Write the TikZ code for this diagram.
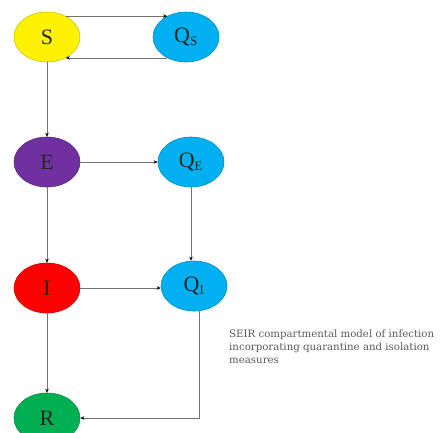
\documentclass[tikz,border=0pt]{standalone}
\usepackage{fontspec}
\setmainfont{Liberation Serif}
\newfontfamily\capfont{DejaVu Serif}
\usetikzlibrary{arrows.meta,shapes.geometric}
\definecolor{syellow}{RGB}{255,242,0}
\definecolor{qblue}{RGB}{0,176,240}
\definecolor{epurple}{RGB}{112,48,160}
\definecolor{ired}{RGB}{255,0,0}
\definecolor{rgreen}{RGB}{0,176,80}
\begin{document}
\begin{tikzpicture}[x=1pt,y=-1pt,
  comp/.style={ellipse, minimum width=66pt, minimum height=50pt, inner sep=0pt,
    draw=#1!80!black, fill=#1, line width=0.6pt,
    font=\fontsize{22}{22}\selectfont, text=black!85},
  flow/.style={draw=black!55, line width=0.7pt,
    -{Stealth[length=4pt,width=3.5pt,fill=black,color=black]}},
  caption/.style={anchor=north west, align=left, inner sep=0pt, text=black!65,
    font=\capfont\fontsize{10.2}{13}\selectfont}]
\useasboundingbox (0,0) rectangle (443,432);
\clip (0,0) rectangle (443,432);

\node[comp=syellow] (S) at (47,37) {S};
\node[comp=qblue] (QS) at (186,37) {Q$_{\textrm{\fontsize{13}{13}\selectfont S}}$};
\node[comp=epurple] (E) at (47,162) {E};
\node[comp=qblue] (QE) at (191,162) {Q$_{\textrm{\fontsize{13}{13}\selectfont E}}$};
\node[comp=ired] (I) at (47,288) {I};
\node[comp=qblue] (QI) at (194,286) {Q$_{\textrm{\fontsize{13}{13}\selectfont I}}$};
\node[comp=rgreen] (R) at (47,418) {R};

\draw[flow] (S.48) -- (QS.132);
\draw[flow] (QS.-132) -- (S.-48);
\draw[flow] (S.south) -- (E.north);
\draw[flow] (E.east) -- (QE.west);
\draw[flow] (E.south) -- (I.north);
\draw[flow] (QE.south) -- (QE.south |- QI.north);
\draw[flow] (I.east) -- (I.east -| QI.west);
\draw[flow] (I.south) -- (R.north);
\draw[flow] (QI.-78) |- (R.east);

\node[caption] (cap) at (229,330) {SEIR compartmental model of infection\\incorporating quarantine and isolation\\measures};
\end{tikzpicture}
\end{document}
